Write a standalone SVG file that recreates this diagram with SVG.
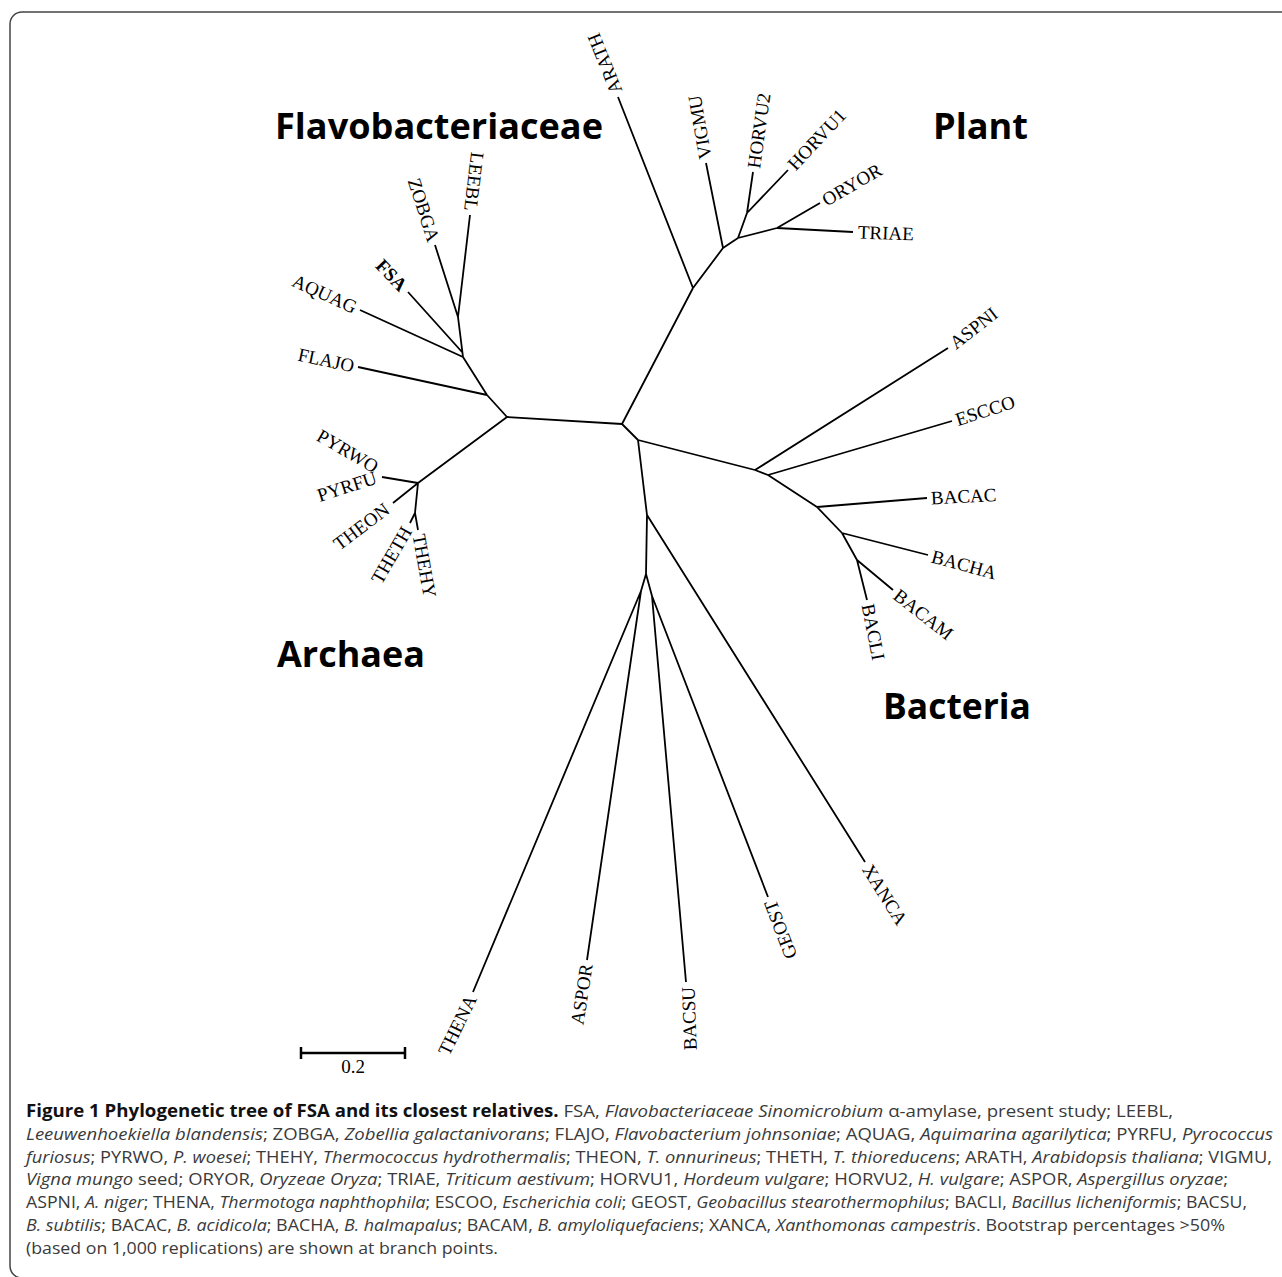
<svg xmlns="http://www.w3.org/2000/svg" width="1282" height="1277" viewBox="0 0 1282 1277">
<style>
.br{fill:none;stroke:#000;stroke-width:1.8;stroke-linejoin:round;stroke-linecap:butt}
.lbl{font-family:"Liberation Serif","Times New Roman",serif;font-size:19px;fill:#000;dominant-baseline:central}
.e{text-anchor:end}
.ttl{font-family:"Open Sans","Noto Sans",sans-serif;font-weight:bold;font-size:36px;fill:#000}
.cap{font-family:"Open Sans","Noto Sans",sans-serif;font-size:17px;fill:#3a3a3a}
.i{font-style:italic}
.b{font-weight:bold;fill:#111}
</style>
<rect x="10" y="12" width="1300" height="1266" rx="12" ry="12" fill="#fff" stroke="#444" stroke-width="1.5"/>

<g id="branches" class="br">
<path d="M507,417 L622,424 M622,424 L693,288 M622,424 L638,440"/>
<path d="M507,417 L487,395 L463,357 L458,317 M458,317 L470,215 M458,317 L435,245 M462,352 L408,292 M463,357 L360,310 M487,395 L358,367"/>
<path d="M507,417 L418,483 M418,483 L382,477 M418,483 L393,503 M418,483 L415,513 M415,513 L410,523 M415,513 L418,530"/>
<path d="M693,288 L723,248 L738,238 L777,228 M693,288 L618,97 M723,248 L706,163 M738,238 L747,213 L753,172 M747,213 L788,170 M777,228 L820,203 M777,228 L853,232"/>
<path d="M638,440 L755,470 L768,475 L817,507 L842,533 L857,560 M755,470 L948,348 M768,475 L952,421 M817,507 L927,498 M842,533 L928,555 M857,560 L893,590 M857,560 L867,600"/>
<path d="M638,440 L647,515 L646,574 M647,515 L865,862 M646,574 L641,591 L473,992 M641,591 L587,960 M646,574 L652,596 L686,982 M652,596 L768,897"/>
</g>

<g id="leaf-LEEBL"><text class="lbl e" transform="translate(470.5,211) rotate(97)">LEEBL</text></g>
<g id="leaf-ZOBGA"><text class="lbl e" transform="translate(434,241) rotate(72)">ZOBGA</text></g>
<g id="leaf-FSA"><text class="lbl e" font-weight="bold" transform="translate(404,288) rotate(46)">FSA</text></g>
<g id="leaf-AQUAG"><text class="lbl e" transform="translate(356,308) rotate(24.5)">AQUAG</text></g>
<g id="leaf-FLAJO"><text class="lbl e" transform="translate(354,366) rotate(12)">FLAJO</text></g>

<g id="leaf-PYRWO"><text class="lbl e" transform="translate(377,468) rotate(30)">PYRWO</text></g>
<g id="leaf-PYRFU"><text class="lbl e" transform="translate(376,477) rotate(-18)">PYRFU</text></g>
<g id="leaf-THEON"><text class="lbl e" transform="translate(387,507) rotate(-37)">THEON</text></g>
<g id="leaf-THETH"><text class="lbl e" transform="translate(407,528) rotate(-60)">THETH</text></g>
<g id="leaf-THEHY"><text class="lbl" transform="translate(419,534) rotate(80)">THEHY</text></g>

<g id="leaf-ARATH"><text class="lbl" transform="translate(616.5,93) rotate(-112)">ARATH</text></g>
<g id="leaf-VIGMU"><text class="lbl" transform="translate(705.3,159) rotate(-100)">VIGMU</text></g>
<g id="leaf-HORVU2"><text class="lbl" transform="translate(753.6,168) rotate(-82)">HORVU2</text></g>
<g id="leaf-HORVU1"><text class="lbl" transform="translate(791,167) rotate(-47)">HORVU1</text></g>
<g id="leaf-ORYOR"><text class="lbl" transform="translate(823.5,201) rotate(-30)">ORYOR</text></g>
<g id="leaf-TRIAE"><text class="lbl" transform="translate(858,232) rotate(2)">TRIAE</text></g>

<g id="leaf-ASPNI"><text class="lbl" transform="translate(952,345) rotate(-38)">ASPNI</text></g>
<g id="leaf-ESCCO"><text class="lbl" transform="translate(956,420) rotate(-18)">ESCCO</text></g>
<g id="leaf-BACAC"><text class="lbl" transform="translate(931,498) rotate(-3)">BACAC</text></g>
<g id="leaf-BACHA"><text class="lbl" transform="translate(932,556) rotate(15)">BACHA</text></g>
<g id="leaf-BACAM"><text class="lbl" transform="translate(896,593) rotate(38)">BACAM</text></g>
<g id="leaf-BACLI"><text class="lbl" transform="translate(868,604) rotate(79)">BACLI</text></g>
<g id="leaf-XANCA"><text class="lbl" transform="translate(867,866) rotate(58)">XANCA</text></g>

<g id="leaf-THENA"><text class="lbl e" transform="translate(471.5,996) rotate(-64)">THENA</text></g>
<g id="leaf-ASPOR"><text class="lbl e" transform="translate(586.4,964) rotate(-81)">ASPOR</text></g>
<g id="leaf-BACSU"><text class="lbl e" transform="translate(688,987) rotate(-92)">BACSU</text></g>
<g id="leaf-GEOST"><text class="lbl e" transform="translate(769.4,901) rotate(-111)">GEOST</text></g>

<g id="group-Flavobacteriaceae"><text class="ttl" x="275" y="139" textLength="328" lengthAdjust="spacingAndGlyphs">Flavobacteriaceae</text></g>
<g id="group-Plant"><text class="ttl" x="933" y="139" textLength="95" lengthAdjust="spacingAndGlyphs">Plant</text></g>
<g id="group-Archaea"><text class="ttl" x="277" y="667" textLength="148" lengthAdjust="spacingAndGlyphs">Archaea</text></g>
<g id="group-Bacteria"><text class="ttl" x="883" y="719" textLength="148" lengthAdjust="spacingAndGlyphs">Bacteria</text></g>

<g id="scale-bar">
<path d="M301,1053 H405 M301,1047 V1059 M405,1047 V1059" fill="none" stroke="#000" stroke-width="2.5"/>
<text x="353" y="1073" text-anchor="middle" font-family="Liberation Serif, serif" font-size="19">0.2</text>
</g>

<g id="caption" class="cap">
<text x="26" y="1117" textLength="1147" lengthAdjust="spacingAndGlyphs"><tspan class="b">Figure 1 Phylogenetic tree of FSA and its closest relatives.</tspan> FSA, <tspan class="i">Flavobacteriaceae Sinomicrobium</tspan> α-amylase, present study; LEEBL,</text>
<text x="26" y="1140" textLength="1247" lengthAdjust="spacingAndGlyphs"><tspan class="i">Leeuwenhoekiella blandensis</tspan>; ZOBGA, <tspan class="i">Zobellia galactanivorans</tspan>; FLAJO, <tspan class="i">Flavobacterium johnsoniae</tspan>; AQUAG, <tspan class="i">Aquimarina agarilytica</tspan>; PYRFU, <tspan class="i">Pyrococcus</tspan></text>
<text x="26" y="1163" textLength="1246" lengthAdjust="spacingAndGlyphs"><tspan class="i">furiosus</tspan>; PYRWO, <tspan class="i">P. woesei</tspan>; THEHY, <tspan class="i">Thermococcus hydrothermalis</tspan>; THEON, <tspan class="i">T. onnurineus</tspan>; THETH, <tspan class="i">T. thioreducens</tspan>; ARATH, <tspan class="i">Arabidopsis thaliana</tspan>; VIGMU,</text>
<text x="26" y="1185" textLength="1202" lengthAdjust="spacingAndGlyphs"><tspan class="i">Vigna mungo</tspan> seed; ORYOR, <tspan class="i">Oryzeae Oryza</tspan>; TRIAE, <tspan class="i">Triticum aestivum</tspan>; HORVU1, <tspan class="i">Hordeum vulgare</tspan>; HORVU2, <tspan class="i">H. vulgare</tspan>; ASPOR, <tspan class="i">Aspergillus oryzae</tspan>;</text>
<text x="26" y="1208" textLength="1221" lengthAdjust="spacingAndGlyphs">ASPNI, <tspan class="i">A. niger</tspan>; THENA, <tspan class="i">Thermotoga naphthophila</tspan>; ESCOO, <tspan class="i">Escherichia coli</tspan>; GEOST, <tspan class="i">Geobacillus stearothermophilus</tspan>; BACLI, <tspan class="i">Bacillus licheniformis</tspan>; BACSU,</text>
<text x="26" y="1231" textLength="1199" lengthAdjust="spacingAndGlyphs"><tspan class="i">B. subtilis</tspan>; BACAC, <tspan class="i">B. acidicola</tspan>; BACHA, <tspan class="i">B. halmapalus</tspan>; BACAM, <tspan class="i">B. amyloliquefaciens</tspan>; XANCA, <tspan class="i">Xanthomonas campestris</tspan>. Bootstrap percentages &gt;50%</text>
<text x="26" y="1254" textLength="472" lengthAdjust="spacingAndGlyphs">(based on 1,000 replications) are shown at branch points.</text>
</g>
</svg>
